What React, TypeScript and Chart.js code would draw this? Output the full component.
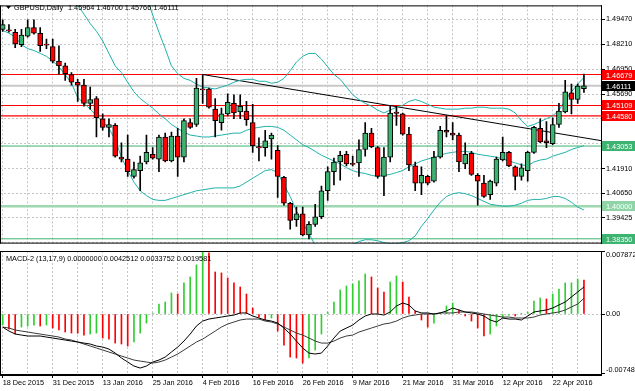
import React, { useEffect, useRef } from "react";
import { Chart, registerables } from "chart.js";

Chart.register(...registerables);

const FONT = "'Liberation Sans', Arial, sans-serif";
const FS = 7.3;

// ---------- text ----------
const symbolTitle = "GBPUSD,Daily";
const headerValues = ["1.45964", "1.46700", "1.45766", "1.46111"];
const macdTitle = "MACD-2 (13,17,9)";
const macdHeaderValues = ["0.0000000", "0.0042512", "0.0033752", "0.0019581"];

// ---------- x axis ----------
const dateLabels = [
  "18 Dec 2015", "31 Dec 2015", "13 Jan 2016", "25 Jan 2016", "4 Feb 2016", "16 Feb 2016",
  "26 Feb 2016", "9 Mar 2016", "21 Mar 2016", "31 Mar 2016", "12 Apr 2016", "22 Apr 2016",
];
const LABEL_STEP = 8; // bars between date labels
const GRID_STEP = 4; // bars between vertical grid lines

// ---------- candles ----------
const open = [
  1.48966, 1.48942, 1.4882, 1.48187, 1.48626, 1.49064, 1.48772, 1.48187, 1.4809, 1.47359,
  1.47116, 1.46678, 1.46288, 1.46142, 1.45217, 1.4546, 1.44438, 1.43999, 1.44097, 1.42489,
  1.42392, 1.41516, 1.41808, 1.42246, 1.42636, 1.42392, 1.43512, 1.42295, 1.43561, 1.42489,
  1.44243, 1.44145, 1.45947, 1.45947, 1.44924, 1.44243, 1.44681, 1.45217, 1.44778, 1.44827,
  1.44243, 1.43025, 1.42976, 1.43415, 1.4283, 1.41467, 1.40152, 1.39324, 1.39616, 1.38545,
  1.3908, 1.3947, 1.40785, 1.41759, 1.42246, 1.42636, 1.42149, 1.42197, 1.42879, 1.43707,
  1.42976, 1.41516, 1.42489, 1.44778, 1.44681, 1.43658, 1.42051, 1.41175, 1.41516, 1.41273,
  1.42489, 1.43853, 1.43707, 1.43609, 1.42149, 1.42684, 1.41565, 1.41175, 1.4059, 1.41175,
  1.42343, 1.42733, 1.42002, 1.41516, 1.41808, 1.42733, 1.4395, 1.43317, 1.43171, 1.44145,
  1.44778, 1.45752, 1.45411, 1.45964,
];
const high = [
  1.49453, 1.4921, 1.48966, 1.48966, 1.49453, 1.49453, 1.49064, 1.48479, 1.48479, 1.48139,
  1.47262, 1.46775, 1.46434, 1.46434, 1.46045, 1.45558, 1.44681, 1.44438, 1.44194, 1.4322,
  1.43609, 1.42246, 1.42538, 1.43609, 1.42976, 1.43609, 1.43707, 1.43756, 1.4395, 1.44438,
  1.44438, 1.46483, 1.46679, 1.45996, 1.4546, 1.44973, 1.45704, 1.45655, 1.45655, 1.45314,
  1.45168, 1.43463, 1.43853, 1.43707, 1.43074, 1.41516, 1.40201, 1.39957, 1.39957, 1.39227,
  1.40103, 1.41028, 1.42002, 1.42441, 1.42782, 1.42782, 1.42538, 1.43366, 1.44243, 1.4395,
  1.43025, 1.42976, 1.45071, 1.45071, 1.4473, 1.43999, 1.42246, 1.42002, 1.41565, 1.42782,
  1.44048, 1.44584, 1.44243, 1.43707, 1.4322, 1.42782, 1.41662, 1.41565, 1.41321, 1.42489,
  1.43512, 1.42782, 1.42051, 1.42149, 1.42782, 1.44048, 1.44438, 1.44291, 1.44486, 1.45217,
  1.46385, 1.46191, 1.46191, 1.467,
];
const low = [
  1.48869, 1.4882, 1.48041, 1.4809, 1.48577, 1.48723, 1.47846, 1.47993, 1.47262, 1.46678,
  1.46385, 1.46142, 1.45314, 1.45071, 1.44924, 1.43512, 1.43853, 1.43512, 1.42489, 1.42246,
  1.41516, 1.41418, 1.40785, 1.42149, 1.42392, 1.41759, 1.42246, 1.42246, 1.41516, 1.42246,
  1.4395, 1.44048, 1.45217, 1.44973, 1.43512, 1.43853, 1.44584, 1.44438, 1.44438, 1.44097,
  1.42733, 1.42295, 1.42538, 1.42392, 1.40444, 1.40054, 1.38838, 1.38983, 1.38496, 1.3835,
  1.38983, 1.39373, 1.40298, 1.41078, 1.41321, 1.42051, 1.42051, 1.41516, 1.42538, 1.42976,
  1.41418, 1.40541, 1.42246, 1.44097, 1.43609, 1.41808, 1.40785, 1.4059, 1.41078, 1.41224,
  1.42441, 1.43512, 1.43366, 1.41759, 1.41905, 1.41565, 1.40054, 1.40444, 1.40347, 1.41028,
  1.42295, 1.42002, 1.40834, 1.41321, 1.41273, 1.42684, 1.4322, 1.42976, 1.43122, 1.43999,
  1.4473, 1.44681, 1.45217, 1.45766,
];
const close = [
  1.4921, 1.48893, 1.48236, 1.48674, 1.49064, 1.48772, 1.48139, 1.48173, 1.47359, 1.47116,
  1.46726, 1.46288, 1.46142, 1.45217, 1.45411, 1.44486, 1.43999, 1.44145, 1.42538, 1.42392,
  1.41759, 1.41856, 1.42197, 1.42733, 1.42441, 1.43512, 1.42295, 1.43561, 1.42489, 1.4434,
  1.43999, 1.45996, 1.45898, 1.45022, 1.4434, 1.44681, 1.45265, 1.4473, 1.45071, 1.44389,
  1.43074, 1.42952, 1.43317, 1.43609, 1.41516, 1.40152, 1.39276, 1.39616, 1.38545, 1.3908,
  1.3947, 1.40785, 1.41759, 1.42246, 1.42587, 1.42149, 1.42124, 1.42879, 1.43707, 1.43025,
  1.41516, 1.42489, 1.4473, 1.44705, 1.43658, 1.421, 1.41175, 1.41565, 1.41175, 1.42489,
  1.43853, 1.43756, 1.43609, 1.42246, 1.42636, 1.41613, 1.41273, 1.40493, 1.41273, 1.42392,
  1.42733, 1.42051, 1.41516, 1.41954, 1.42733, 1.43999, 1.43268, 1.4322, 1.44145, 1.44827,
  1.45801, 1.45411, 1.46093, 1.46111,
];

// ---------- Bollinger bands ----------
const bbUpper = [
  1.545, 1.5455, 1.546, 1.5465, 1.547, 1.5475, 1.548, 1.549, 1.55, 1.551,
  1.552, 1.553, 1.554, 1.555, 1.5555, 1.556, 1.556, 1.5555, 1.555, 1.55,
  1.5408, 1.5311, 1.51889, 1.50671, 1.49697, 1.4882, 1.47992, 1.47116, 1.46726, 1.46483,
  1.46385, 1.46191, 1.46045, 1.45996, 1.45947, 1.46045, 1.46142, 1.46288, 1.46385, 1.46434,
  1.46434, 1.46337, 1.46337, 1.46239, 1.46288, 1.46483, 1.46872, 1.47311, 1.47603, 1.47749,
  1.47749, 1.47457, 1.47067, 1.46678, 1.46434, 1.46045, 1.45655, 1.45411, 1.45217, 1.45071,
  1.44876, 1.4473, 1.44876, 1.45022, 1.45119, 1.45314, 1.45411, 1.45314, 1.45168, 1.45022,
  1.44973, 1.44924, 1.44924, 1.44924, 1.44973, 1.44973, 1.45022, 1.45022, 1.44973, 1.44973,
  1.44973, 1.44924, 1.4473, 1.4434, 1.44048, 1.44145, 1.44291, 1.44438, 1.44584, 1.44876,
  1.45363, 1.45801, 1.46191, 1.46531,
];
const bbMiddle = [
  1.51889, 1.51791, 1.51694, 1.51596, 1.51499, 1.51402, 1.51255, 1.51158, 1.51012, 1.50817,
  1.50622, 1.50379, 1.50184, 1.49746, 1.49259, 1.48869, 1.48382, 1.47749, 1.47116, 1.46775,
  1.46288, 1.45801, 1.4546, 1.45217, 1.44973, 1.44681, 1.44438, 1.44145, 1.4395, 1.43756,
  1.43609, 1.43561, 1.43512, 1.43512, 1.43561, 1.43609, 1.43658, 1.43707, 1.43707, 1.43853,
  1.4395, 1.43999, 1.44048, 1.44048, 1.43999, 1.43853, 1.43609, 1.43366, 1.43122, 1.42976,
  1.42782, 1.42587, 1.42441, 1.42295, 1.42149, 1.41954, 1.41808, 1.4171, 1.41661, 1.41565,
  1.41516, 1.41565, 1.41613, 1.4171, 1.41808, 1.42002, 1.42149, 1.42295, 1.42392, 1.42489,
  1.42587, 1.42684, 1.42733, 1.42782, 1.42782, 1.42733, 1.42636, 1.42587, 1.42538, 1.42489,
  1.42392, 1.42295, 1.42197, 1.421, 1.42051, 1.42246, 1.42343, 1.42392, 1.42538, 1.42636,
  1.42733, 1.42879, 1.42976, 1.43074,
];
const bbLower = [
  1.48918, 1.48772, 1.48577, 1.48187, 1.47993, 1.47895, 1.47749, 1.47603, 1.47359, 1.47067,
  1.46678, 1.46239, 1.45509, 1.45217, 1.44924, 1.44584, 1.44291, 1.4395, 1.43366, 1.42489,
  1.41808, 1.41223, 1.40785, 1.40541, 1.40347, 1.40298, 1.40298, 1.40395, 1.40493, 1.4059,
  1.40687, 1.40785, 1.40834, 1.40882, 1.40931, 1.40931, 1.40931, 1.40931, 1.41028, 1.41223,
  1.41418, 1.41613, 1.41808, 1.41857, 1.4171, 1.41077, 1.40493, 1.39766, 1.39178, 1.38603,
  1.38034, 1.37638, 1.37425, 1.37425, 1.37638, 1.37873, 1.38068, 1.38214, 1.38301, 1.38301,
  1.38252, 1.38155, 1.38106, 1.38106, 1.38155, 1.38252, 1.38496, 1.38983, 1.39373, 1.39811,
  1.40201, 1.40493, 1.40639, 1.40687, 1.40639, 1.40541, 1.40395, 1.40249, 1.40103, 1.40054,
  1.40006, 1.40006, 1.40054, 1.40152, 1.40298, 1.40347, 1.40347, 1.40395, 1.40493, 1.40493,
  1.40395, 1.40201, 1.39957, 1.39811,
];

// ---------- MACD ----------
const macdHist = [
  -0.00138, -0.00188, -0.0025, -0.00163, -0.0015, -0.00138, -0.0015, -0.00138, -0.00175, -0.002,
  -0.00225, -0.00238, -0.0024, -0.00263, -0.0025, -0.00238, -0.003, -0.00313, -0.00363, -0.00375,
  -0.004, -0.0035, -0.00238, -0.00113, 0.00005, 0.00125, 0.0015, 0.00263, 0.0025, 0.00388,
  0.00463, 0.00613, 0.007872, 0.00763, 0.00525, 0.00513, 0.0045, 0.00388, 0.00338, 0.0025,
  0.00075, -0.00038, -0.00075, -0.0005, -0.00213, -0.00388, -0.00538, -0.0055, -0.00613, -0.0055,
  -0.0045, -0.0025, 0.00025, 0.0015, 0.003, 0.0035, 0.00375, 0.00413, 0.005, 0.00463,
  0.00325, 0.00275, 0.004, 0.00475, 0.004, 0.00213, 0.00038, -0.00075, -0.00163, -0.00113,
  0.00013, 0.001, 0.00138, 0.0005, -0.00025, -0.00088, -0.00175, -0.00275, -0.0025, -0.0015,
  -0.0005, -0.00013, -0.00025, 0.00003, 0.00025, 0.00163, 0.002, 0.00188, 0.0025, 0.00313,
  0.00388, 0.0039, 0.00438, 0.0042512,
];
const macdMain = [
  -0.00163, -0.00213, -0.0025, -0.00263, -0.00275, -0.00275, -0.00275, -0.00288, -0.003, -0.00313,
  -0.00325, -0.00338, -0.0035, -0.00363, -0.00375, -0.004, -0.00413, -0.00438, -0.00488, -0.0055,
  -0.006, -0.0065, -0.00675, -0.0065, -0.006, -0.00575, -0.00538, -0.00475, -0.00413, -0.00338,
  -0.0025, -0.0015, -0.00088, -0.00063, -0.0005, -0.00038, -0.00025, -0.00013, 0.00013, 0.00013,
  -0.00025, -0.0005, -0.00075, -0.00088, -0.00113, -0.00175, -0.0025, -0.00338, -0.00425, -0.00488,
  -0.005, -0.00488, -0.004, -0.003, -0.00213, -0.00175, -0.00138, -0.00075, -0.00025, 0,
  0, -0.00013, 0.00025, 0.001, 0.00138, 0.00113, 0.00038, 0.00013, 0.00013, 0,
  0.00013, 0.00038, 0.00075, 0.0005, 0.00025, 0.00013, 0, -0.00025, -0.00075, -0.001,
  -0.0005, -0.00063, -0.00063, -0.00075, -0.00025, 0.00025, 0.00038, 0.0005, 0.00075, 0.00113,
  0.0015, 0.00213, 0.00275, 0.0033752,
];
const macdSignal = [
  -0.00163, -0.00175, -0.002, -0.00213, -0.00225, -0.00238, -0.0025, -0.00263, -0.00275, -0.00288,
  -0.00313, -0.00325, -0.0035, -0.00375, -0.004, -0.00425, -0.0045, -0.00475, -0.005, -0.00525,
  -0.0055, -0.00575, -0.00588, -0.006, -0.00613, -0.006, -0.00575, -0.00538, -0.005, -0.0045,
  -0.004, -0.0035, -0.00313, -0.00263, -0.00213, -0.00163, -0.00125, -0.001, -0.00075, -0.00063,
  -0.00063, -0.00063, -0.00088, -0.001, -0.00125, -0.00163, -0.002, -0.00238, -0.00263, -0.003,
  -0.00338, -0.00363, -0.00363, -0.00338, -0.003, -0.00275, -0.00263, -0.00225, -0.002, -0.00175,
  -0.0015, -0.00125, -0.00113, -0.00088, -0.0005, -0.00025, -0.00013, 0, 0, 0,
  0.00013, 0.00013, 0.00013, 0.00025, 0.00025, 0.00025, 0.00013, 0, -0.00013, -0.00025,
  -0.00038, -0.00038, -0.0005, -0.0005, -0.0005, -0.00038, -0.00013, 0, 0.00013, 0.00025,
  0.0005, 0.00088, 0.00125, 0.0019581,
];

// ---------- levels / ticks ----------
const priceTicks = [1.4947, 1.4821, 1.4695, 1.4569, 1.4443, 1.4317, 1.4191, 1.4065, 1.39425, 1.38165];
const redLevels = [1.46679, 1.45109, 1.4458];
const greenLevels = [1.43053, 1.3835];
const roundLevel = 1.4;
const lastClose = 1.46111;
const trendStart = { x: 32, y: 1.46679 };
const trendEnd = { x: 96, y: 1.43313 };
const macdTicks = [0.007872, 0, -0.00748];

// ---------- layout / style ----------
const W = 635;
const H = 391;
const MAIN_H = 249;
const AXIS_W = 34;
const X_MIN = -0.432;
const X_MAX = 95.728;
const PRICE_MIN = 1.38106;
const PRICE_MAX = 1.50184;
const MACD_MIN = -0.00762;
const MACD_MAX = 0.007872;
const GRID = "#c4c4c4";
const BULL = "#3cb371";
const BEAR = "#ff0000";
const BAND = "#20b2aa";
const HIST_UP = "#32cd32";
const HIST_DN = "#ff0000";

const idx = open.map((_, i) => i);
const gridTicks = () => {
  const t: { value: number }[] = [];
  for (let v = 0; v < open.length; v += GRID_STEP) t.push({ value: v });
  return t;
};
const hline = (v: number) => [
  { x: X_MIN, y: v },
  { x: X_MAX, y: v },
];
const lineDs = (data: any[], color: string, width: number, order: number) => ({
  type: "line" as const,
  data,
  borderColor: color,
  borderWidth: width,
  pointRadius: 0,
  tension: 0,
  fill: false,
  order,
});

const framePlugin = {
  id: "frame",
  afterDraw(chart: any) {
    const { ctx, chartArea } = chart;
    ctx.save();
    ctx.strokeStyle = "#000";
    ctx.lineWidth = 1;
    ctx.beginPath();
    ctx.moveTo(0.5, chartArea.top);
    ctx.lineTo(0.5, chartArea.bottom);
    ctx.moveTo(0, chartArea.top + 0.5);
    ctx.lineTo(chartArea.right, chartArea.top + 0.5);
    ctx.moveTo(0, chartArea.bottom - 0.5);
    ctx.lineTo(chartArea.right, chartArea.bottom - 0.5);
    ctx.stroke();
    ctx.restore();
  },
};

const mainTextPlugin = {
  id: "mainText",
  afterDraw(chart: any) {
    const { ctx, chartArea, scales } = chart;
    const y = scales.y;
    ctx.save();
    ctx.font = `${FS}px ${FONT}`;
    ctx.textBaseline = "middle";
    ctx.textAlign = "left";
    // header
    ctx.fillStyle = "#000";
    ctx.beginPath();
    ctx.moveTo(6, 6);
    ctx.lineTo(11, 6);
    ctx.lineTo(8.5, 9);
    ctx.closePath();
    ctx.fill();
    ctx.fillText(symbolTitle, 14, 8);
    ctx.fillText(headerValues.join(" "), 68, 8);
    // price tags
    const tags = [
      ...redLevels.map((v) => ({ v, bg: "#ff0000" })),
      ...greenLevels.map((v) => ({ v, bg: "#3cb371" })),
      { v: roundLevel, bg: "#8fd4a6" },
      { v: lastClose, bg: "#000000" },
    ];
    tags.forEach((t) => {
      const py = Math.round(y.getPixelForValue(t.v));
      ctx.fillStyle = t.bg;
      ctx.fillRect(chartArea.right + 1, py - 5, AXIS_W, 10);
      ctx.fillStyle = "#fff";
      ctx.fillText(t.v.toFixed(5), chartArea.right + 5, py + 0.5);
    });
    ctx.restore();
  },
};

const macdTextPlugin = {
  id: "macdText",
  afterDraw(chart: any) {
    const { ctx, chartArea, scales } = chart;
    const y = scales.y;
    ctx.save();
    ctx.font = `${FS}px ${FONT}`;
    ctx.textBaseline = "middle";
    ctx.textAlign = "left";
    ctx.fillStyle = "#000";
    ctx.fillText(`${macdTitle} ${macdHeaderValues.join(" ")}`, 6, chartArea.top + 8);
    macdTicks.forEach((v) => {
      let py = y.getPixelForValue(v);
      py = Math.min(Math.max(py, chartArea.top + 4), chartArea.bottom - 5);
      ctx.fillText(v === 0 ? "0.00" : v.toFixed(6), chartArea.right + 5, py);
    });
    ctx.restore();
  },
};

function mainConfig(): any {
  return {
    type: "bar",
    data: {
      datasets: [
        {
          type: "bar",
          data: idx.map((i) => ({ x: i, y: [open[i], close[i]] })),
          backgroundColor: idx.map((i) => (close[i] >= open[i] ? BULL : BEAR)),
          borderColor: "#000",
          borderWidth: 1,
          borderSkipped: false,
          barThickness: 5,
          minBarLength: 1,
          grouped: false,
          order: 0,
        },
        {
          type: "bar",
          data: idx.map((i) => ({ x: i, y: [low[i], high[i]] })),
          backgroundColor: "#000",
          barThickness: 1,
          grouped: false,
          order: 1,
        },
        lineDs(idx.map((i) => ({ x: i, y: bbUpper[i] })), BAND, 1, 2),
        lineDs(idx.map((i) => ({ x: i, y: bbMiddle[i] })), BAND, 1, 2),
        lineDs(idx.map((i) => ({ x: i, y: bbLower[i] })), BAND, 1, 2),
        lineDs([trendStart, trendEnd], "#000", 1, 3),
        ...redLevels.map((v) => lineDs(hline(v), "#ff0000", 1.2, 4)),
        ...greenLevels.map((v) => lineDs(hline(v), "#3cb371", 1, 4)),
        lineDs(hline(roundLevel), "#9ed8b0", 2.5, 4),
        lineDs(hline(lastClose), "#c8c8c8", 2, 5),
      ],
    },
    options: {
      animation: false,
      responsive: false,
      maintainAspectRatio: false,
      devicePixelRatio: 1,
      events: [],
      layout: { padding: { top: 0, left: 0, right: 0, bottom: 1 } },
      plugins: { legend: { display: false }, tooltip: { enabled: false } },
      scales: {
        x: {
          type: "linear",
          min: X_MIN,
          max: X_MAX,
          offset: false,
          afterBuildTicks: (s: any) => {
            s.ticks = gridTicks();
          },
          ticks: { display: false },
          grid: { color: GRID, drawTicks: false, offset: false },
          border: { display: false, dash: [2, 2] },
        },
        y: {
          type: "linear",
          position: "right",
          min: PRICE_MIN,
          max: PRICE_MAX,
          beginAtZero: false,
          afterFit: (s: any) => {
            s.width = AXIS_W;
          },
          afterBuildTicks: (s: any) => {
            s.ticks = priceTicks.map((value) => ({ value }));
          },
          ticks: {
            font: { family: FONT, size: FS },
            color: "#000",
            padding: 1,
            callback: (v: number) => v.toFixed(5),
          },
          grid: { color: GRID, tickLength: 4, tickColor: "#000", tickBorderDash: [] },
          border: { display: true, color: "#000", width: 1, dash: [2, 2] },
        },
      },
    },
    plugins: [framePlugin, mainTextPlugin],
  };
}

function macdConfig(): any {
  return {
    type: "bar",
    data: {
      datasets: [
        {
          type: "bar",
          data: idx.map((i) => ({ x: i, y: macdHist[i] })),
          backgroundColor: idx.map((i) =>
            i === 0 || macdHist[i] >= macdHist[i - 1] ? HIST_UP : HIST_DN
          ),
          barThickness: 1,
          grouped: false,
          order: 2,
        },
        lineDs(idx.map((i) => ({ x: i, y: macdMain[i] })), "#000", 1, 0),
        lineDs(idx.map((i) => ({ x: i, y: macdSignal[i] })), "#3a3a3a", 1, 1),
      ],
    },
    options: {
      animation: false,
      responsive: false,
      maintainAspectRatio: false,
      devicePixelRatio: 1,
      events: [],
      layout: { padding: { top: 2, left: 0, right: 0, bottom: 0 } },
      plugins: { legend: { display: false }, tooltip: { enabled: false } },
      scales: {
        x: {
          type: "linear",
          min: X_MIN,
          max: X_MAX,
          offset: false,
          afterBuildTicks: (s: any) => {
            s.ticks = gridTicks();
          },
          afterFit: (s: any) => {
            s.height = 16;
          },
          ticks: {
            display: true,
            autoSkip: false,
            maxRotation: 0,
            minRotation: 0,
            align: "start",
            padding: 1,
            font: { family: FONT, size: FS },
            color: "#000",
            callback: (v: number) => (v % LABEL_STEP === 0 ? dateLabels[v / LABEL_STEP] ?? "" : ""),
          },
          grid: {
            color: GRID,
            offset: false,
            tickLength: 3,
            tickColor: (c: any) => (c.tick && c.tick.value % LABEL_STEP === 0 ? "#000" : "rgba(0,0,0,0)"),
            tickBorderDash: [],
          },
          border: { display: true, color: "#000", width: 1, dash: [2, 2] },
        },
        y: {
          type: "linear",
          position: "right",
          min: MACD_MIN,
          max: MACD_MAX,
          beginAtZero: false,
          afterFit: (s: any) => {
            s.width = AXIS_W;
          },
          afterBuildTicks: (s: any) => {
            s.ticks = macdTicks.map((value) => ({ value }));
          },
          ticks: { display: false },
          grid: {
            color: (c: any) => (c.tick && c.tick.value === 0 ? GRID : "rgba(0,0,0,0)"),
            tickLength: 4,
            tickColor: "#000",
            tickBorderDash: [],
          },
          border: { display: true, color: "#000", width: 1, dash: [2, 2] },
        },
      },
    },
    plugins: [framePlugin, macdTextPlugin],
  };
}

export default function App() {
  const mainRef = useRef<HTMLCanvasElement>(null);
  const macdRef = useRef<HTMLCanvasElement>(null);
  useEffect(() => {
    const c1 = new Chart(mainRef.current as HTMLCanvasElement, mainConfig());
    const c2 = new Chart(macdRef.current as HTMLCanvasElement, macdConfig());
    return () => {
      c1.destroy();
      c2.destroy();
    };
  }, []);
  return (
    <div
      style={{
        position: "fixed",
        left: 0,
        top: 0,
        width: W,
        height: H,
        background: "#fff",
        overflow: "hidden",
      }}
    >
      <canvas
        ref={mainRef}
        width={W}
        height={MAIN_H}
        style={{ position: "absolute", left: 0, top: 0, width: W, height: MAIN_H }}
      />
      <canvas
        ref={macdRef}
        width={W}
        height={H - MAIN_H}
        style={{ position: "absolute", left: 0, top: MAIN_H, width: W, height: H - MAIN_H }}
      />
    </div>
  );
}
